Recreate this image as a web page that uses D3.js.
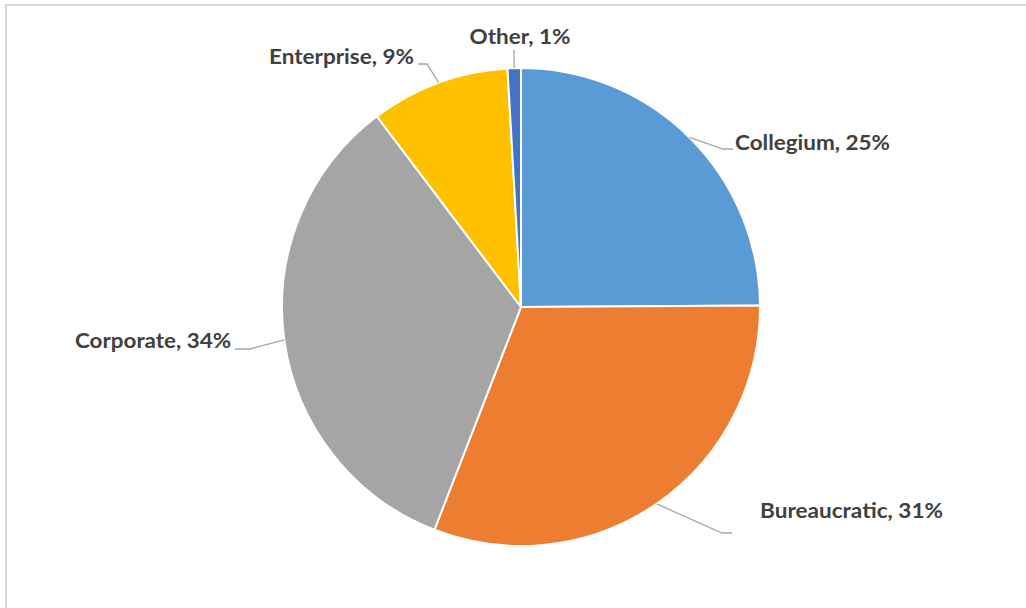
<!DOCTYPE html>
<html>
<head>
<meta charset="utf-8">
<script src="https://cdn.jsdelivr.net/npm/d3@7"></script>
<style>
html,body{margin:0;padding:0;background:#fff;}
svg{display:block;}
</style>
</head>
<body>
<script>
// ---- data ----
const categories = ["Collegium", "Bureaucratic", "Corporate", "Enterprise", "Other"];
const values = [24.9, 31.0, 33.8, 9.4, 0.9];
const colors = ["#5B9BD5", "#ED7D31", "#A5A5A5", "#FFC000", "#4472C4"];

// ---- layout (label placement) ----
const W = 1026, H = 608;
const cx = 521, cy = 307, R = 239;
const labelLayout = [
  {elbow:[723,149], end:[733,149], tx:735, ty:150, anchor:"start", len:155},
  {elbow:[722,533], end:[732,533], tx:760, ty:518, anchor:"start", len:183},
  {elbow:[250,349], end:[235,349], tx:231, ty:348, anchor:"end", len:156},
  {elbow:[427,64],  end:[418,64],  tx:414, ty:64,  anchor:"end", len:145},
  {elbow:[514,50],  end:[514,50],  tx:520, ty:44,  anchor:"middle", len:101}
];

const svg = d3.select("body").append("svg").attr("width", W).attr("height", H);

svg.append("rect").attr("x", 6).attr("y", 5).attr("width", W + 50).attr("height", H + 50)
  .attr("fill", "#fff").attr("stroke", "#d9d9d9").attr("stroke-width", 2);

const total = d3.sum(values);
const pie = d3.pie().sort(null).value(d => d)(values);
const arc = d3.arc().innerRadius(0).outerRadius(R);

const g = svg.append("g").attr("transform", `translate(${cx},${cy})`);
g.selectAll("path.slice").data(pie).enter().append("path")
  .attr("class", "slice")
  .attr("d", arc)
  .attr("fill", (d, i) => colors[i])
  .attr("stroke", "#fff").attr("stroke-width", 2).attr("stroke-linejoin", "round");

// leader lines and labels
pie.forEach((d, i) => {
  const a = (d.startAngle + d.endAngle) / 2;
  const sx = cx + R * Math.sin(a), sy = cy - R * Math.cos(a);
  const L = labelLayout[i];
  svg.append("polyline")
    .attr("points", [[sx, sy], L.elbow, L.end].map(p => p.join(",")).join(" "))
    .attr("fill", "none").attr("stroke", "#a6a6a6").attr("stroke-width", 1.3);
  const pct = Math.round(values[i] / total * 100);
  svg.append("text")
    .attr("x", L.tx).attr("y", L.ty)
    .attr("text-anchor", L.anchor)
    .attr("font-family", "Lato, 'Open Sans', sans-serif")
    .attr("font-weight", "bold")
    .attr("font-size", 21)
    .attr("fill", "#404040")
    .attr("textLength", L.len)
    .attr("lengthAdjust", "spacingAndGlyphs")
    .text(`${categories[i]}, ${pct}%`);
});
</script>
</body>
</html>
